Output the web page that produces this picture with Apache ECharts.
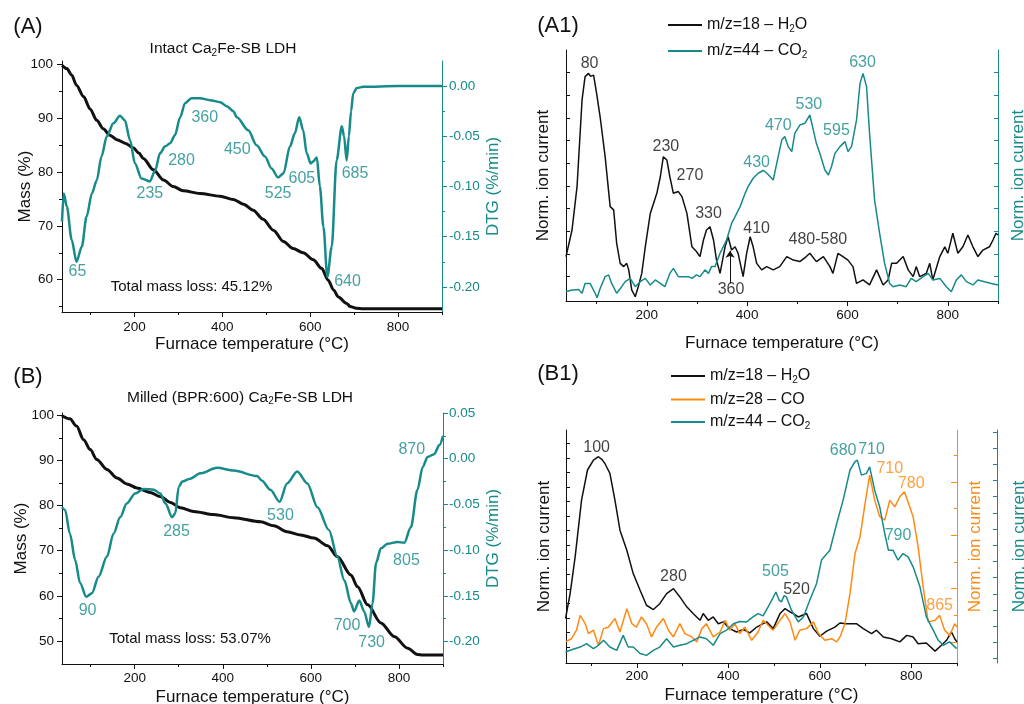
<!DOCTYPE html>
<html><head><meta charset="utf-8">
<script src="https://cdn.jsdelivr.net/npm/echarts@6/dist/echarts.min.js"></script>
<style>html,body{margin:0;padding:0;background:#fff}#c{width:1024px;height:704px}</style>
</head><body><div id="c"></div>
<script>
// ---------------- data ----------------
const xMajor = [200, 400, 600, 800];
const xMinor = [100, 300, 500, 700, 900];
const massTicksA = [60, 70, 80, 90, 100];
const massMinorA = [55, 65, 75, 85, 95];
const dtgTicksA = [-0.20, -0.15, -0.10, -0.05, 0.00];
const dtgMinorA = [-0.175, -0.125, -0.075, -0.025];
const massTicksB = [50, 60, 70, 80, 90, 100];
const massMinorB = [55, 65, 75, 85, 95];
const dtgTicksB = [-0.20, -0.15, -0.10, -0.05, 0.00, 0.05];
const dtgMinorB = [-0.175, -0.125, -0.075, -0.025, 0.025];

// (A) intact: TGA mass (%) and DTG (%/min)
const tgaA = [[35,99.8],[46,99.2],[57,98.0],[68,96.1],[84,94.0],[99,91.7],[114,89.6],[129,88.0],[144,86.8],[160,86.0],[180,85.3],[197,84.5],[210,83.5],[220,82.5],[243,80.4],[266,78.5],[288,77.3],[311,76.5],[349,76.0],[395,75.5],[425,74.9],[448,74.0],[470,72.9],[493,71.2],[516,69.2],[539,67.1],[561,65.8],[584,65.0],[607,63.7],[626,62.1],[641,59.9],[653,58.1],[664,56.8],[683,55.6],[691,55.0],[705,54.7],[720,54.6],[800,54.6],[900,54.6]];
const dtgA = [[35,-0.135],[39,-0.107],[46,-0.120],[57,-0.153],[68,-0.175],[80,-0.160],[91,-0.130],[103,-0.107],[114,-0.094],[125,-0.070],[137,-0.050],[152,-0.037],[167,-0.0295],[178,-0.034],[190,-0.054],[201,-0.077],[216,-0.092],[235,-0.095],[247,-0.084],[258,-0.067],[270,-0.060],[281,-0.057],[292,-0.049],[304,-0.031],[315,-0.017],[330,-0.012],[349,-0.012],[372,-0.014],[395,-0.016],[410,-0.020],[425,-0.025],[433,-0.031],[459,-0.044],[478,-0.059],[497,-0.070],[512,-0.082],[527,-0.091],[539,-0.087],[554,-0.060],[565,-0.047],[575,-0.031],[584,-0.044],[592,-0.067],[601,-0.077],[607,-0.075],[615,-0.071],[622,-0.100],[630,-0.140],[639,-0.190],[649,-0.160],[660,-0.074],[672,-0.040],[677,-0.050],[683,-0.074],[688,-0.050],[693,-0.025],[698,-0.007],[706,-0.002],[721,-0.0006],[800,0],[900,0]];
const annA = [[70,-0.185,'65'],[235,-0.107,'235'],[307,-0.074,'280'],[360,-0.031,'360'],[434,-0.063,'450'],[527,-0.107,'525'],[581,-0.092,'605'],[685,-0.195,'640'],[702,-0.087,'685']];

// (B) milled
const tgaB = [[35,99.9],[53,99.2],[68,97.6],[84,94.6],[99,92.4],[114,90.2],[137,88.0],[160,86.1],[182,84.8],[205,83.9],[235,82.9],[258,82.0],[281,80.7],[304,79.5],[334,78.7],[379,78.0],[425,77.3],[486,76.4],[516,75.5],[546,74.2],[577,73.5],[607,72.8],[638,71.1],[660,68.7],[691,64.6],[706,62.0],[729,58.0],[759,54.0],[789,51.0],[820,48.4],[842,47.0],[854,46.9],[900,46.9]];
const dtgB = [[35,-0.053],[42,-0.056],[53,-0.082],[65,-0.111],[76,-0.136],[90,-0.151],[103,-0.147],[118,-0.129],[137,-0.107],[152,-0.082],[167,-0.064],[182,-0.049],[201,-0.038],[220,-0.033],[243,-0.034],[258,-0.038],[270,-0.049],[285,-0.064],[292,-0.060],[300,-0.031],[308,-0.025],[326,-0.022],[349,-0.016],[387,-0.010],[425,-0.013],[478,-0.019],[489,-0.024],[508,-0.034],[529,-0.047],[546,-0.027],[569,-0.014],[592,-0.027],[615,-0.053],[641,-0.078],[660,-0.107],[676,-0.133],[691,-0.158],[698,-0.167],[710,-0.155],[721,-0.167],[732,-0.184],[740,-0.158],[748,-0.114],[759,-0.098],[774,-0.093],[797,-0.091],[812,-0.092],[827,-0.075],[842,-0.034],[854,-0.009],[865,0.002],[880,0.005],[892,0.015],[900,0.025]];
const annB = [[93,-0.166,'90'],[295,-0.080,'285'],[531,-0.062,'530'],[682,-0.182,'700'],[738,-0.201,'730'],[817,-0.111,'805'],[829,0.010,'870']];

// (A1) normalised ion currents (0-100)
const a1H2O = [[39,17.7],[51,28.3],[61,45.6],[71,80.1],[77,89.4],[84,90.7],[88,89.5],[94,90.0],[100,82.7],[107,73.4],[117,57.5],[127,37.6],[134,36.3],[140,23.0],[147,15.0],[154,13.7],[160,15.0],[164,12.4],[170,4.4],[177,1.7],[183,5.7],[190,11.0],[197,21.6],[207,34.9],[220,42.9],[227,49.5],[233,57.5],[240,56.2],[246,49.5],[253,42.9],[263,43.6],[270,41.6],[280,34.9],[290,21.6],[299,19.7],[306,17.7],[313,24.3],[319,28.3],[326,29.6],[333,24.3],[339,16.3],[346,11.0],[356,21.6],[362,25.6],[369,20.3],[376,21.6],[382,19.0],[392,9.7],[399,19.0],[406,25.6],[412,21.6],[419,15.0],[429,12.4],[439,13.7],[452,12.4],[465,13.7],[479,17.7],[492,16.3],[505,15.7],[518,17.7],[525,19.0],[538,15.7],[552,17.7],[565,13.7],[571,11.0],[581,19.0],[591,17.7],[601,16.3],[611,13.7],[618,7.0],[631,8.4],[644,6.4],[658,12.4],[671,6.4],[681,8.4],[688,15.0],[698,15.0],[711,17.7],[721,12.4],[731,9.7],[737,13.7],[744,9.7],[757,11.0],[764,15.0],[770,8.4],[784,17.7],[794,21.6],[800,19.0],[810,27.0],[820,19.0],[830,21.6],[840,26.3],[850,21.6],[860,17.7],[870,20.3],[883,21.6],[890,24.3],[896,27.0],[900,26.3]];
const a1CO2 = [[39,3.7],[51,4.4],[64,4.6],[71,3.1],[77,7.0],[87,7.0],[97,3.1],[101,1.3],[107,5.0],[117,9.7],[124,10.4],[130,7.0],[140,3.1],[150,5.7],[157,7.7],[167,9.0],[177,5.7],[187,7.7],[197,9.0],[207,6.4],[217,8.4],[227,7.0],[236,5.7],[246,11.0],[253,13.0],[263,9.7],[273,9.7],[283,9.7],[290,9.0],[299,10.4],[306,9.7],[316,12.4],[323,11.0],[329,13.7],[336,13.7],[346,19.0],[359,24.3],[369,30.9],[376,33.6],[386,37.6],[396,42.9],[402,45.6],[412,48.9],[422,50.9],[432,52.0],[439,51.0],[452,48.2],[459,54.8],[469,64.1],[475,65.5],[482,61.5],[489,59.5],[495,66.8],[505,70.1],[515,70.8],[525,74.1],[532,68.1],[538,62.8],[545,58.8],[555,52.2],[562,50.2],[568,53.5],[575,58.8],[585,61.5],[595,63.5],[601,59.5],[608,61.5],[618,72.1],[625,86.7],[631,90.7],[638,85.4],[644,66.8],[654,40.2],[664,27.0],[674,15.0],[684,7.0],[691,5.7],[704,6.4],[717,5.7],[727,9.0],[737,7.7],[751,9.7],[761,11.0],[770,8.4],[784,9.0],[797,5.7],[807,3.7],[817,8.4],[827,10.4],[837,7.7],[850,6.4],[860,8.4],[873,7.7],[887,7.0],[900,6.4]];
const annA1H2O = [[86,94.7,'80'],[238,61.5,'230'],[286,49.9,'270'],[323,34.9,'330'],[419,28.7,'410'],[368,4.7,'360'],[541,24.6,'480-580']];
const annA1CO2 = [[419,55.3,'430'],[462,69.7,'470'],[523,78.1,'530'],[578,67.7,'595'],[630,94.9,'630']];
const arrow360 = [[366,7],[366,20]];

// (B1) normalised ion currents (0-100)
const b1H2O = [[44,19.8],[54,30.9],[65,47.2],[79,72.5],[92,85.9],[105,90.3],[116,91.8],[124,90.5],[130,88.8],[141,84.4],[152,72.5],[163,59.1],[178,50.2],[192,39.8],[207,32.4],[221,25.7],[236,23.8],[250,26.4],[265,30.9],[280,33.1],[294,29.4],[309,25.0],[323,22.0],[338,19.0],[345,22.0],[356,19.0],[367,20.5],[378,17.5],[389,18.3],[403,15.3],[418,13.8],[433,14.9],[447,13.4],[462,16.0],[476,17.5],[484,18.3],[498,15.3],[513,22.0],[524,24.2],[535,22.7],[542,22.0],[553,20.5],[571,22.0],[586,15.3],[600,11.9],[615,14.2],[633,16.0],[644,17.8],[658,17.5],[680,17.5],[695,15.3],[713,13.1],[724,14.6],[739,11.6],[757,10.8],[775,9.4],[790,12.3],[804,11.6],[815,8.6],[833,8.9],[852,5.3],[866,7.9],[877,10.1],[888,13.8],[895,10.8],[900,9.4]];
const b1CO = [[44,9.4],[57,10.8],[68,14.6],[76,21.2],[87,17.5],[94,13.1],[105,14.6],[116,7.9],[127,15.3],[138,16.0],[152,19.8],[163,13.8],[178,24.2],[189,17.5],[199,16.0],[210,20.5],[221,17.5],[232,11.6],[243,16.0],[258,19.8],[269,14.6],[280,11.6],[294,17.5],[305,13.1],[320,11.6],[331,9.4],[342,15.3],[352,17.5],[367,11.6],[382,13.8],[393,19.0],[403,14.6],[414,17.5],[425,13.1],[436,16.0],[451,10.1],[465,13.8],[476,19.0],[498,14.6],[513,19.0],[524,22.0],[535,18.3],[546,10.1],[556,14.6],[571,15.3],[586,18.3],[597,13.1],[611,10.1],[626,10.8],[637,9.4],[645,12.0],[655,17.5],[666,30.9],[677,48.7],[688,56.2],[699,71.0],[709,83.6],[720,72.5],[731,65.1],[742,63.6],[753,72.5],[764,69.5],[775,74.0],[785,76.2],[793,71.7],[804,65.1],[815,51.7],[826,33.9],[837,18.3],[852,19.0],[862,21.2],[873,14.6],[884,12.3],[895,17.5],[900,16.0]];
const b1CO2 = [[44,4.9],[57,5.9],[76,7.1],[90,8.6],[105,6.4],[116,7.9],[127,10.1],[141,7.1],[156,5.6],[170,12.3],[181,7.1],[192,7.1],[207,4.2],[221,3.4],[236,5.6],[250,7.1],[265,10.8],[280,7.1],[294,7.9],[309,8.6],[323,10.1],[338,11.6],[352,10.8],[367,7.9],[382,13.1],[396,14.6],[411,17.5],[425,18.5],[440,18.3],[454,20.5],[465,22.0],[476,21.0],[491,26.4],[504,31.6],[511,28.0],[516,27.2],[522,30.0],[527,29.4],[538,23.5],[553,18.3],[564,20.5],[578,27.9],[593,35.4],[604,46.0],[622,50.2],[637,62.1],[651,72.5],[666,85.9],[677,89.6],[682,90.3],[691,83.6],[702,84.4],[709,87.3],[720,76.9],[731,69.5],[742,57.6],[750,50.2],[760,50.2],[771,45.8],[782,48.7],[793,47.2],[804,42.8],[819,33.9],[833,20.5],[848,14.6],[859,10.1],[870,7.9],[884,9.4],[899,6.4]];
const annB1H2O = [[112,96,'100'],[280,38.6,'280'],[549,32.7,'520']];
const annB1CO = [[753,86.6,'710'],[800,79.9,'780'],[862,25.7,'865']];
const annB1CO2 = [[503,40.6,'505'],[651,94.5,'680'],[713,95,'710'],[771,56.9,'790']];

const nameH2O = 'm/z=18 – H2O', nameCO = 'm/z=28 – CO', nameCO2 = 'm/z=44 – CO2';

// ---------------- style ----------------
const TEAL = '#178a8a', ORANGE = '#ff8a12', INK = '#111111';
const FONT = '"Liberation Sans", Arial, Helvetica, sans-serif';
const range = (a, step, n) => Array.from({length: n}, (_, k) => +(a + step * k).toFixed(3));

function xPair(grid, min, max, gap, margin) {
  const base = {type: 'value', gridIndex: grid, min, max, position: 'bottom', splitLine: {show: false}};
  return [
    Object.assign({}, base, {
      name: 'Furnace temperature (°C)', nameLocation: 'middle', nameGap: gap, nameMoveOverlap: false,
      nameTextStyle: {fontSize: 17, color: INK, fontFamily: FONT},
      axisLine: {show: true, onZero: false, lineStyle: {color: INK, width: 1}},
      axisTick: {show: true, customValues: xMajor, length: 5, lineStyle: {color: INK}},
      axisLabel: {show: true, customValues: xMajor, margin, fontSize: 13.5, color: INK, fontFamily: FONT}
    }),
    Object.assign({}, base, {
      axisLine: {show: false, onZero: false},
      axisTick: {show: true, customValues: xMinor, length: 3, lineStyle: {color: INK}},
      axisLabel: {show: false}
    })
  ];
}
function yAx(o) {
  const col = o.col || INK;
  const ax = {
    type: 'value', gridIndex: o.grid, position: o.pos, offset: o.offset || 0, min: o.min, max: o.max,
    splitLine: {show: false},
    axisLine: {show: !!o.line, onZero: false, lineStyle: {color: col, width: 1}},
    axisTick: {show: true, inside: !!o.inside, customValues: o.ticks, length: o.len || 5, lineStyle: {color: col}},
    axisLabel: o.labels ? {show: true, customValues: o.labels, margin: o.margin, fontSize: 13.5, color: col, fontFamily: FONT,
      formatter: o.fmt || (v => String(v))} : {show: false}
  };
  if (o.name) Object.assign(ax, {name: o.name, nameLocation: 'middle', nameRotate: 90, nameGap: o.gap, nameMoveOverlap: false,
    nameTextStyle: {fontSize: 17, color: col, fontFamily: FONT}});
  return ax;
}
const fmt2 = v => v.toFixed(2);

const xAxis = [].concat(
  xPair(0, 35, 900, 24, 8),
  xPair(1, 35, 900, 25, 7),
  xPair(2, 39, 900, 34, 7),
  xPair(3, 45, 900, 24, 6)
);
const yAxis = [
  // A: 0-3
  yAx({grid: 0, pos: 'left', min: 54, max: 100.6, line: true, ticks: massTicksA, labels: massTicksA, margin: 9, name: 'Mass (%)', gap: 28}),
  yAx({grid: 0, pos: 'left', min: 54, max: 100.6, ticks: massMinorA, len: 3}),
  yAx({grid: 0, pos: 'right', min: -0.225, max: 0.025, line: true, col: TEAL, ticks: dtgTicksA, labels: dtgTicksA, margin: 7, fmt: fmt2, name: 'DTG (%/min)', gap: 43}),
  yAx({grid: 0, pos: 'right', min: -0.225, max: 0.025, col: TEAL, ticks: dtgMinorA, len: 3}),
  // B: 4-7
  yAx({grid: 1, pos: 'left', min: 44.9, max: 100.5, line: true, ticks: massTicksB, labels: massTicksB, margin: 8, name: 'Mass (%)', gap: 32}),
  yAx({grid: 1, pos: 'left', min: 44.9, max: 100.5, ticks: massMinorB, len: 3}),
  yAx({grid: 1, pos: 'right', min: -0.2245, max: 0.05, line: true, col: TEAL, ticks: dtgTicksB, labels: dtgTicksB, margin: 6, fmt: fmt2, name: 'DTG (%/min)', gap: 42}),
  yAx({grid: 1, pos: 'right', min: -0.2245, max: 0.05, col: TEAL, ticks: dtgMinorB, len: 3}),
  // A1: 8-9
  yAx({grid: 2, pos: 'left', min: 0, max: 100, line: true, inside: true, ticks: range(9.7, 9.03, 10), len: 4, name: 'Norm. ion current', gap: 14}),
  yAx({grid: 2, pos: 'right', min: 0, max: 100, line: true, inside: true, col: TEAL, ticks: range(9.7, 9.03, 10), len: 4, name: 'Norm. ion current', gap: 12}),
  // B1: 10-13
  yAx({grid: 3, pos: 'left', min: 0, max: 103.7, line: true, inside: true, ticks: range(7.1, 6.48, 15), len: 4, name: 'Norm. ion current', gap: 13}),
  yAx({grid: 3, pos: 'right', min: 0, max: 103.7, line: true, inside: true, col: ORANGE, ticks: range(9.4, 23.75, 4), len: 6, name: 'Norm. ion current', gap: 10}),
  yAx({grid: 3, pos: 'right', min: 0, max: 103.7, inside: true, col: ORANGE, ticks: range(21.3, 23.75, 4), len: 3}),
  yAx({grid: 3, pos: 'right', offset: 40, min: 0, max: 103.7, line: true, inside: true, col: TEAL, ticks: range(2, 7.2, 15), len: 4, name: 'Norm. ion current', gap: 14})
];

function line(name, data, xi, yi, color, width, smooth) {
  return {type: 'line', name, data, xAxisIndex: xi, yAxisIndex: yi, symbol: 'none', showSymbol: false,
    smooth: smooth || false, smoothMonotone: smooth ? 'x' : undefined,
    lineStyle: {color, width}, itemStyle: {color}, z: 3, silent: true};
}
function ann(list, xi, yi, color) {
  return {type: 'scatter', name: 'ann' + xi + '_' + yi + color, xAxisIndex: xi, yAxisIndex: yi, symbolSize: 1,
    itemStyle: {color: 'transparent'}, silent: true, z: 6,
    data: list.map(a => ({value: [a[0], a[1]], name: a[2]})),
    label: {show: true, position: 'inside', formatter: '{b}', color, fontSize: 16, fontFamily: FONT}};
}

const h2oA1 = line(nameH2O, a1H2O, 4, 8, INK, 1.5);
h2oA1.markLine = {silent: true, symbol: ['none', 'arrow'], symbolSize: 7, animation: false,
  lineStyle: {color: INK, width: 1, type: 'solid'}, label: {show: false},
  data: [[{coord: arrow360[0]}, {coord: arrow360[1]}]]};

const series = [
  line('TGA A', tgaA, 0, 0, INK, 3, 0.3),
  line('DTG A', dtgA, 0, 2, TEAL, 2.5, 0.3),
  ann(annA, 0, 2, TEAL),
  line('TGA B', tgaB, 2, 4, INK, 3, 0.3),
  line('DTG B', dtgB, 2, 6, TEAL, 2.5, 0.3),
  ann(annB, 2, 6, TEAL),
  h2oA1,
  line(nameCO2, a1CO2, 4, 9, TEAL, 1.5),
  ann(annA1H2O, 4, 8, INK),
  ann(annA1CO2, 4, 9, TEAL),
  line(nameH2O, b1H2O, 6, 10, INK, 1.5),
  line(nameCO, b1CO, 6, 11, ORANGE, 1.5),
  line(nameCO2, b1CO2, 6, 13, TEAL, 1.5),
  ann(annB1H2O, 6, 10, INK),
  ann(annB1CO, 6, 11, ORANGE),
  ann(annB1CO2, 6, 13, TEAL)
];

const LRICH = {
  n: {fontSize: 16, fontFamily: FONT, color: INK, lineHeight: 18},
  s: {fontSize: 10, fontFamily: FONT, color: INK, lineHeight: 10, verticalAlign: 'bottom'}
};
const richName = n => n.replace(/^(.*?)(H|CO)2(.*)$/, '{n|$1$2}{s|2}{n|$3}').replace(/^([^{].*)$/, '{n|$1}');
function legend(left, top, gap, names) {
  return {left, top, orient: 'vertical', icon: 'rect', itemWidth: 34, itemHeight: 2, itemGap: gap, padding: 0,
    data: names, selectedMode: false, formatter: richName,
    textStyle: {fontSize: 16, color: INK, fontFamily: FONT, rich: LRICH}};
}

const TRICH = {
  n: {fontSize: 15.5, fontFamily: FONT, fill: INK, lineHeight: 18},
  s: {fontSize: 10, fontFamily: FONT, fill: INK, lineHeight: 10, verticalAlign: 'bottom'}
};
function txt(x, y, text, size, rich) {
  return {type: 'text', x, y, silent: true, style: {text, fontSize: size, fontFamily: FONT, fill: INK,
    align: 'center', verticalAlign: 'middle', rich: rich || undefined}};
}
const graphic = [
  txt(28, 26.5, '(A)', 22), txt(28, 376.5, '(B)', 22),
  txt(558, 26, '(A1)', 22), txt(558, 373.5, '(B1)', 22),
  txt(223, 49, '{n|Intact Ca}{s|2}{n|Fe-SB LDH}', 15.5, TRICH),
  txt(240, 397.5, '{n|Milled (BPR:600) Ca}{s|2}{n|Fe-SB LDH}', 15.5, TRICH),
  txt(191.5, 287, 'Total mass loss: 45.12%', 15),
  txt(190, 639, 'Total mass loss: 53.07%', 15)
];

const chart = echarts.init(document.getElementById('c'), null, {renderer: 'canvas'});
chart.setOption({
  animation: false,
  backgroundColor: '#ffffff',
  textStyle: {fontFamily: FONT},
  grid: [
    {left: 62, top: 61, right: 582, bottom: 392, outerBoundsMode: 'none', containLabel: false},
    {left: 62, top: 413, right: 581, bottom: 40, outerBoundsMode: 'none', containLabel: false},
    {left: 566, top: 50, right: 26, bottom: 403, outerBoundsMode: 'none', containLabel: false},
    {left: 566, top: 430, right: 67, bottom: 41, outerBoundsMode: 'none', containLabel: false}
  ],
  legend: [legend(668, 17, 9, [nameH2O, nameCO2]), legend(671, 368, 6.5, [nameH2O, nameCO, nameCO2])],
  xAxis, yAxis, series, graphic
});
</script></body></html>
